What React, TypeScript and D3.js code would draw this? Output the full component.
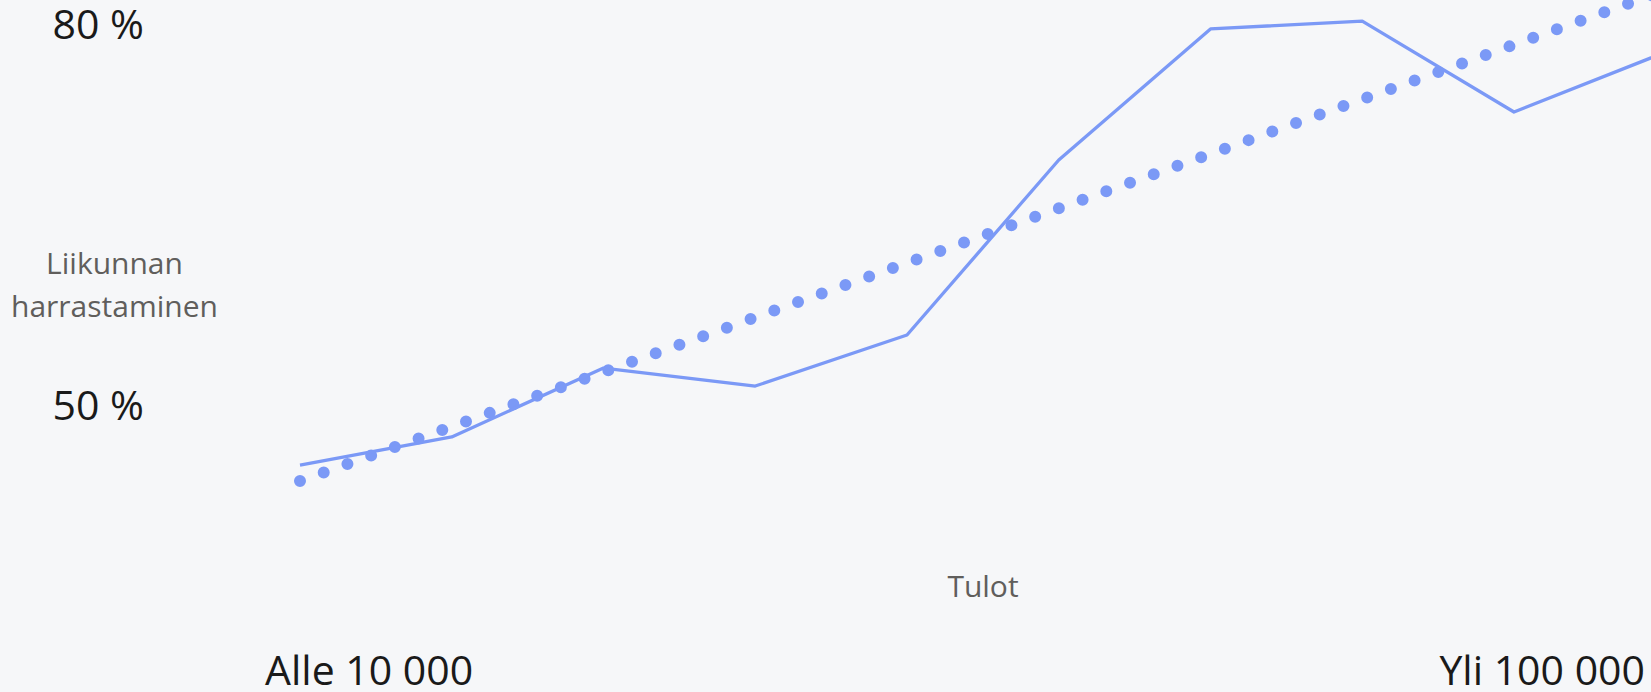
import React, { useEffect, useRef } from 'react';
import * as d3 from 'd3';

// income brackets (only the first and last are labelled on the axis)
const categories = [
  'Alle 10 000', '10 000–19 999', '20 000–29 999', '30 000–39 999', '40 000–49 999',
  '50 000–59 999', '60 000–69 999', '70 000–79 999', '80 000–99 999', 'Yli 100 000',
];
const shareValues = [45.35, 47.56, 52.99, 51.57, 55.59, 69.37, 79.69, 80.31, 73.15, 77.87];
const trendValues = [44.09, 82.74]; // trend line at first and last bracket
const yTicks = [50, 80];
const xTickLabels = ['Alle 10 000', 'Yli 100 000'];

const WIDTH = 1651;
const HEIGHT = 692;
const LINE_COLOR = '#7b99f6';
const FONT = '"Open Sans", "Noto Sans", sans-serif';

export default function App() {
  const svgRef = useRef<SVGSVGElement>(null);

  useEffect(() => {
    if (!svgRef.current) return;
    document.body.style.margin = '0';

    const svg = d3.select(svgRef.current);
    svg.selectAll('*').remove();

    svg.append('rect')
      .attr('width', WIDTH)
      .attr('height', HEIGHT)
      .attr('fill', '#f6f7f9');

    const x = d3.scalePoint<string>()
      .domain(categories)
      .range([300, 1665.75]);

    const y = d3.scaleLinear()
      .domain([50, 80])
      .range([406, 25]);

    // y tick labels
    svg.append('g')
      .selectAll('text')
      .data(yTicks)
      .join('text')
      .attr('x', 144)
      .attr('y', d => y(d))
      .attr('dy', '0.35em')
      .attr('text-anchor', 'end')
      .attr('font-family', FONT)
      .attr('font-size', 41)
      .attr('fill', '#1a1a1a')
      .text(d => `${d} %`);

    // y axis title
    const yTitle = svg.append('text')
      .attr('text-anchor', 'middle')
      .attr('font-family', FONT)
      .attr('font-size', 30)
      .attr('fill', '#605e5c');
    yTitle.append('tspan').attr('x', 114.5).attr('y', 274).text('Liikunnan');
    yTitle.append('tspan').attr('x', 114.5).attr('y', 317).text('harrastaminen');

    // x axis title
    svg.append('text')
      .attr('x', 983)
      .attr('y', 597)
      .attr('text-anchor', 'middle')
      .attr('font-family', FONT)
      .attr('font-size', 30)
      .attr('fill', '#605e5c')
      .text('Tulot');

    // x tick labels at the axis ends
    svg.append('g')
      .selectAll('text')
      .data(xTickLabels)
      .join('text')
      .attr('x', (d, i) => (i === 0 ? 265 : 1645))
      .attr('y', 685)
      .attr('text-anchor', (d, i) => (i === 0 ? 'start' : 'end'))
      .attr('font-family', FONT)
      .attr('font-size', 41)
      .attr('fill', '#1a1a1a')
      .text(d => d);

    // trend line (dotted)
    const trendPts: [string, number][] = [
      [categories[0], trendValues[0]],
      [categories[categories.length - 1], trendValues[1]],
    ];
    const line = d3.line<[string, number]>()
      .x(d => x(d[0]) ?? 0)
      .y(d => y(d[1]));

    svg.append('path')
      .datum(trendPts)
      .attr('d', line)
      .attr('fill', 'none')
      .attr('stroke', LINE_COLOR)
      .attr('stroke-width', 12)
      .attr('stroke-linecap', 'round')
      .attr('stroke-dasharray', '0 25.2');

    // actual series
    svg.append('path')
      .datum(categories.map((c, i) => [c, shareValues[i]] as [string, number]))
      .attr('d', line)
      .attr('fill', 'none')
      .attr('stroke', LINE_COLOR)
      .attr('stroke-width', 3.3)
      .attr('stroke-linejoin', 'round');
  }, []);

  return (
    <svg
      ref={svgRef}
      width={WIDTH}
      height={HEIGHT}
      style={{ display: 'block', position: 'absolute', left: 0, top: 0 }}
    />
  );
}
